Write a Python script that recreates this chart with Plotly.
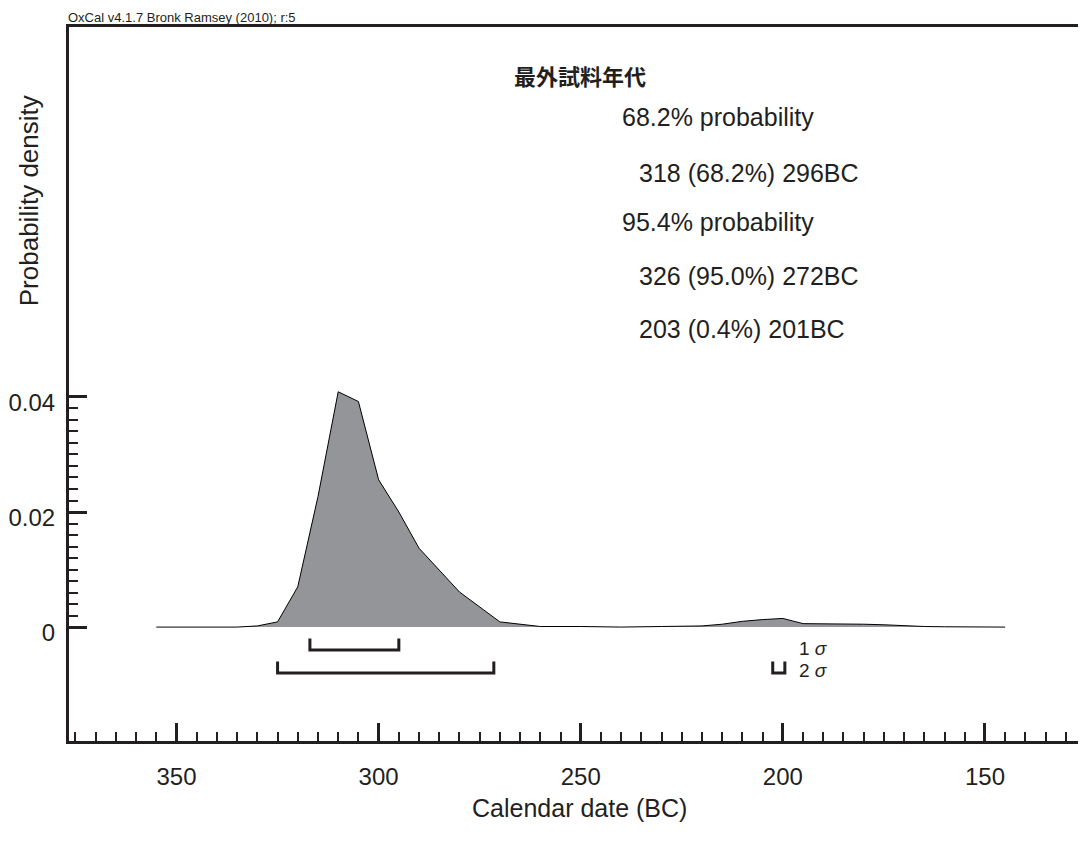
import plotly.graph_objects as go

# ---- data ----
years = [355, 335, 330, 325, 320, 315, 310, 305, 300, 295, 290, 280, 270, 260, 250,
         240, 230, 220, 215, 210, 205, 200, 195, 190, 185, 180, 175, 170, 165, 160, 150, 145]
density = [0.0, 0.0, 0.0002, 0.0009, 0.0070, 0.0227, 0.0409, 0.0392, 0.0256, 0.0200,
           0.0137, 0.0061, 0.0009, 0.0001, 0.0001, 0.0, 0.0001, 0.0002, 0.0005, 0.0010,
           0.0013, 0.0015, 0.0006, 0.0006, 0.0006, 0.0005, 0.0004, 0.0002, 0.0001, 0.00005,
           0.0, 0.0]

sigma1_ranges = [(317, 295)]
sigma2_ranges = [(325, 271.5), (202.5, 199.5)]

y_major = [0, 0.02, 0.04]
y_major_text = ["0", "0.02", "0.04"]
y_minor = [round(0.002 * i, 3) for i in range(1, 20) if i != 10]

title_text = "最外試料年代"
info_lines = ["68.2% probability", "318 (68.2%) 296BC", "95.4% probability",
              "326 (95.0%) 272BC", "203 (0.4%) 201BC"]
sigma_labels = ["1 <i>σ</i>", "2 <i>σ</i>"]
header_text = "OxCal v4.1.7 Bronk Ramsey (2010); r:5"
x_title = "Calendar date (BC)"
y_title = "Probability density"

# ---- style ----
INK = "#231F20"
FILL = "#939598"
FONT = "Liberation Sans, Arial, sans-serif"
OFF = 8                      # page body margin of the browser
W, H = 1086 - OFF, 850 - OFF
# plot area in screen pixels: left 63, top 27, right 1086, bottom 741
L, T = 63 - OFF, 27 - OFF
R = 0
B = H - (741 - OFF)

def px(xs):
    return (xs - OFF - L) / (W - L - R)

def py(ys):
    return (H - B - (ys - OFF)) / (H - T - B)

fig = go.Figure()

fig.add_trace(go.Scatter(
    x=years, y=density, mode="lines", fill="tozeroy",
    fillcolor=FILL, line=dict(color="black", width=1), hoverinfo="skip",
    showlegend=False))

def bracket(a, b, top, bot):
    fig.add_trace(go.Scatter(
        x=[a, a, b, b], y=[top, bot, bot, top], mode="lines",
        line=dict(color=INK, width=3), showlegend=False, hoverinfo="skip"))

for a, b in sigma1_ranges:
    bracket(a, b, -0.0020, -0.0040)
for a, b in sigma2_ranges:
    bracket(a, b, -0.0060, -0.0080)

annotations = []
sig_text = "<br>".join('<span style="font-size:19px">' + s + "</span>" for s in sigma_labels)
annotations.append(dict(x=196.4, y=-0.0057, xref="x", yref="y", text=sig_text,
                        showarrow=False, xanchor="left", yanchor="middle", align="left",
                        font=dict(family=FONT, size=16.9, color=INK)))

annotations.append(dict(x=px(577), y=py(75), xref="paper", yref="paper",
                        text="<b>" + title_text + "</b>",
                        showarrow=False, xanchor="center", yanchor="middle",
                        font=dict(family="Noto Sans CJK JP", size=22, color=INK)))

info_pos = [(617, 117), (634, 173), (617, 222), (634, 276), (634, 329)]
for t, (xs, ys) in zip(info_lines, info_pos):
    annotations.append(dict(x=px(xs), y=py(ys), xref="paper", yref="paper", text=t,
                            showarrow=False, xanchor="left", yanchor="middle",
                            font=dict(family=FONT, size=25, color=INK)))

annotations.append(dict(x=px(60), y=py(OFF), xref="paper", yref="paper", text=header_text,
                        showarrow=False, xanchor="left", yanchor="top",
                        font=dict(family=FONT, size=13, color=INK)))
annotations.append(dict(x=px(23), y=py(201), xref="paper", yref="paper", text=y_title,
                        textangle=-90, showarrow=False, xanchor="center", yanchor="middle",
                        font=dict(family=FONT, size=26, color=INK)))
annotations.append(dict(x=px(577), y=py(808), xref="paper", yref="paper", text=x_title,
                        showarrow=False, xanchor="center", yanchor="middle",
                        font=dict(family=FONT, size=25, color=INK)))

fig.update_layout(
    width=W, height=H, margin=dict(l=L, r=R, t=T, b=B, pad=0),
    paper_bgcolor="white", plot_bgcolor="white",
    annotations=annotations, showlegend=False,
    xaxis=dict(range=[376.6, 125], showgrid=False, zeroline=False,
               showline=True, linewidth=3, linecolor=INK, mirror=True,
               ticks="inside", ticklen=18, tickwidth=3, tickcolor=INK,
               tickmode="linear", tick0=0, dtick=50,
               minor=dict(ticks="inside", ticklen=9, tickwidth=1.5, tickcolor=INK,
                          tickmode="linear", tick0=0, dtick=5),
               tickfont=dict(family=FONT, size=24, color=INK),
               ticklabelstandoff=12),
    yaxis=dict(range=[-0.0198, 0.1043], showgrid=False, zeroline=False,
               showline=True, linewidth=3, linecolor=INK, mirror=False,
               ticks="inside", ticklen=18, tickwidth=3, tickcolor=INK,
               tickmode="array", tickvals=y_major, ticktext=y_major_text,
               minor=dict(ticks="inside", ticklen=9, tickwidth=1.5, tickcolor=INK,
                          tickmode="array", tickvals=y_minor),
               tickfont=dict(family=FONT, size=24, color=INK),
               ticklabelstandoff=6, ticklabelshift=6),
)

fig.write_html("out.html")
